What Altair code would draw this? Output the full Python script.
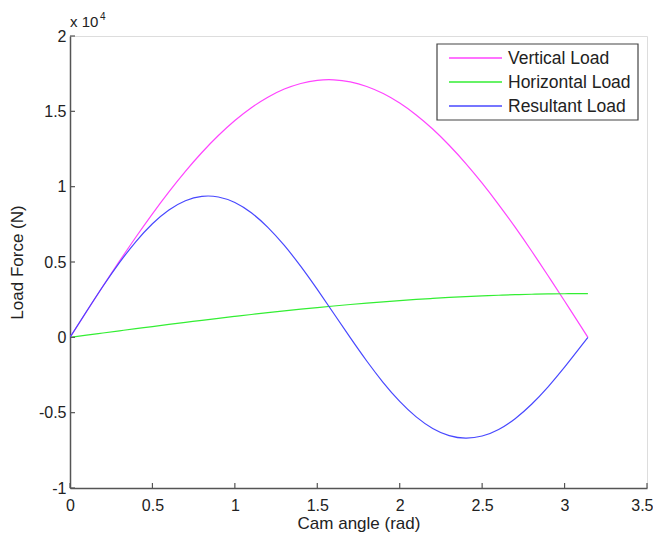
import altair as alt
import pandas as pd

# Cam angle (rad)
angle = [0.0, 0.1, 0.2, 0.3, 0.4, 0.5, 0.6, 0.7, 0.8, 0.9, 1.0, 1.1, 1.2, 1.3, 1.4, 1.5,
         1.6, 1.7, 1.8, 1.9, 2.0, 2.1, 2.2, 2.3, 2.4, 2.5, 2.6, 2.7, 2.8, 2.9, 3.0, 3.1, 3.1416]
vertical = [0, 1707, 3398, 5053, 6659, 8198, 9655, 11016, 12268, 13394, 14390, 15240, 15937,
            16478, 16850, 17057, 17093, 16958, 16652, 16182, 15549, 14761, 13825, 12751, 11551,
            10234, 8815, 7309, 5729, 4090, 2413, 711, 0]
horizontal = [0, 145, 289, 433, 576, 717, 857, 994, 1129, 1262, 1390, 1516, 1637, 1755, 1868,
              1977, 2080, 2179, 2272, 2359, 2440, 2515, 2584, 2647, 2703, 2752, 2794, 2830, 2858,
              2879, 2893, 2899, 2900]
resultant = [0, 1712, 3388, 4955, 6358, 7539, 8452, 9065, 9357, 9315, 8945, 8264, 7302, 6099,
             4706, 3178, 1580, -23, -1571, -3000, -4251, -5280, -6047, -6522, -6692, -6551,
             -6114, -5398, -4441, -3282, -1981, -589, 0]

series_names = ["Vertical Load", "Horizontal Load", "Resultant Load"]
series_colors = ["#ff44ff", "#33ee33", "#4848ff"]

x_ticks = [0, 0.5, 1, 1.5, 2, 2.5, 3, 3.5]
y_ticks = [-10000, -5000, 0, 5000, 10000, 15000, 20000]

rows = []
for name, vals in zip(series_names, [vertical, horizontal, resultant]):
    for a, v in zip(angle, vals):
        rows.append({"angle": a, "load": v, "series": name})
df = pd.DataFrame(rows)

W, H = 577, 452
FONT = "Liberation Sans"
AX = "#555555"
LAB = "#222222"

xscale = alt.Scale(domain=[0, 3.5], nice=False, zero=False)
yscale = alt.Scale(domain=[-10000, 20000], nice=False, zero=False)

last_tick = "datum.value == 3.5"

lines = alt.Chart(df).mark_line(strokeWidth=1.2, interpolate="natural", clip=True).encode(
    x=alt.X("angle:Q", scale=xscale,
            axis=alt.Axis(title="Cam angle (rad)", values=x_ticks, labelExpr="'' + datum.value",
                          tickSize=0, labelPadding=9, domainColor=AX, domainWidth=1.5,
                          grid=False, labelFont=FONT, labelFontSize=16, labelColor=LAB,
                          labelFlush=False, labelOverlap=False,
                          labelAlign={"condition": {"test": last_tick, "value": "right"},
                                      "value": "center"},
                          labelOffset={"condition": {"test": last_tick, "value": 6},
                                       "value": 0},
                          titleFont=FONT, titleFontSize=17, titleFontWeight="normal",
                          titleColor=LAB, titlePadding=2)),
    y=alt.Y("load:Q", scale=yscale,
            axis=alt.Axis(title="Load Force (N)", values=y_ticks,
                          labelExpr="'' + (datum.value / 10000)",
                          tickSize=0, labelPadding=4, domainColor=AX, domainWidth=1.5,
                          grid=False, labelFont=FONT, labelFontSize=16, labelColor=LAB,
                          labelFlush=False, labelOverlap=False,
                          titleFont=FONT, titleFontSize=17, titleFontWeight="normal",
                          titleColor=LAB, titlePadding=12)),
    color=alt.Color("series:N",
                    scale=alt.Scale(domain=series_names, range=series_colors),
                    legend=None),
    detail="series:N",
)

xt = alt.Chart(pd.DataFrame({"t": x_ticks})).mark_rule(color=AX, strokeWidth=1.2).encode(
    x=alt.X("t:Q", scale=xscale), y=alt.value(H), y2=alt.value(H - 5))
yt = alt.Chart(pd.DataFrame({"t": y_ticks})).mark_rule(color=AX, strokeWidth=1.2).encode(
    y=alt.Y("t:Q", scale=yscale), x=alt.value(0), x2=alt.value(5))

exp_base = alt.Chart(pd.DataFrame({"s": ["x 10"]})).mark_text(
    font=FONT, fontSize=15, color=LAB, align="left", baseline="alphabetic").encode(
    text="s:N", x=alt.value(0), y=alt.value(-9))
exp_sup = alt.Chart(pd.DataFrame({"s": ["4"]})).mark_text(
    font=FONT, fontSize=10, color=LAB, align="left", baseline="alphabetic").encode(
    text="s:N", x=alt.value(30), y=alt.value(-16))

# manual legend (box, sample lines, labels)
legend_box = alt.Chart(pd.DataFrame({"k": [0]})).mark_rect(
    fill="white", stroke="#444444", strokeWidth=1.2).encode(
    x=alt.value(367), x2=alt.value(568), y=alt.value(8), y2=alt.value(84))
legend_layers = [legend_box]
row_y = [22, 46, 70]
for name, col, ry in zip(series_names, series_colors, row_y):
    ld = pd.DataFrame({"series": [name]})
    legend_layers.append(alt.Chart(ld).mark_rule(color=col, strokeWidth=1.5).encode(
        x=alt.value(379), x2=alt.value(432), y=alt.value(ry)))
    legend_layers.append(alt.Chart(ld).mark_text(
        font=FONT, fontSize=17.5, color=LAB, align="left", baseline="middle").encode(
        text="series:N", x=alt.value(438), y=alt.value(ry + 1)))

chart = alt.layer(lines, xt, yt, exp_base, exp_sup, *legend_layers).properties(
    width=W, height=H,
    autosize=alt.AutoSizeParams(type="none"),
    padding={"left": 62, "top": 28, "right": 6, "bottom": 48},
).configure_view(stroke=None).configure(background="white")

chart.save("out.html", embed_options={"renderer": "svg", "actions": False})
